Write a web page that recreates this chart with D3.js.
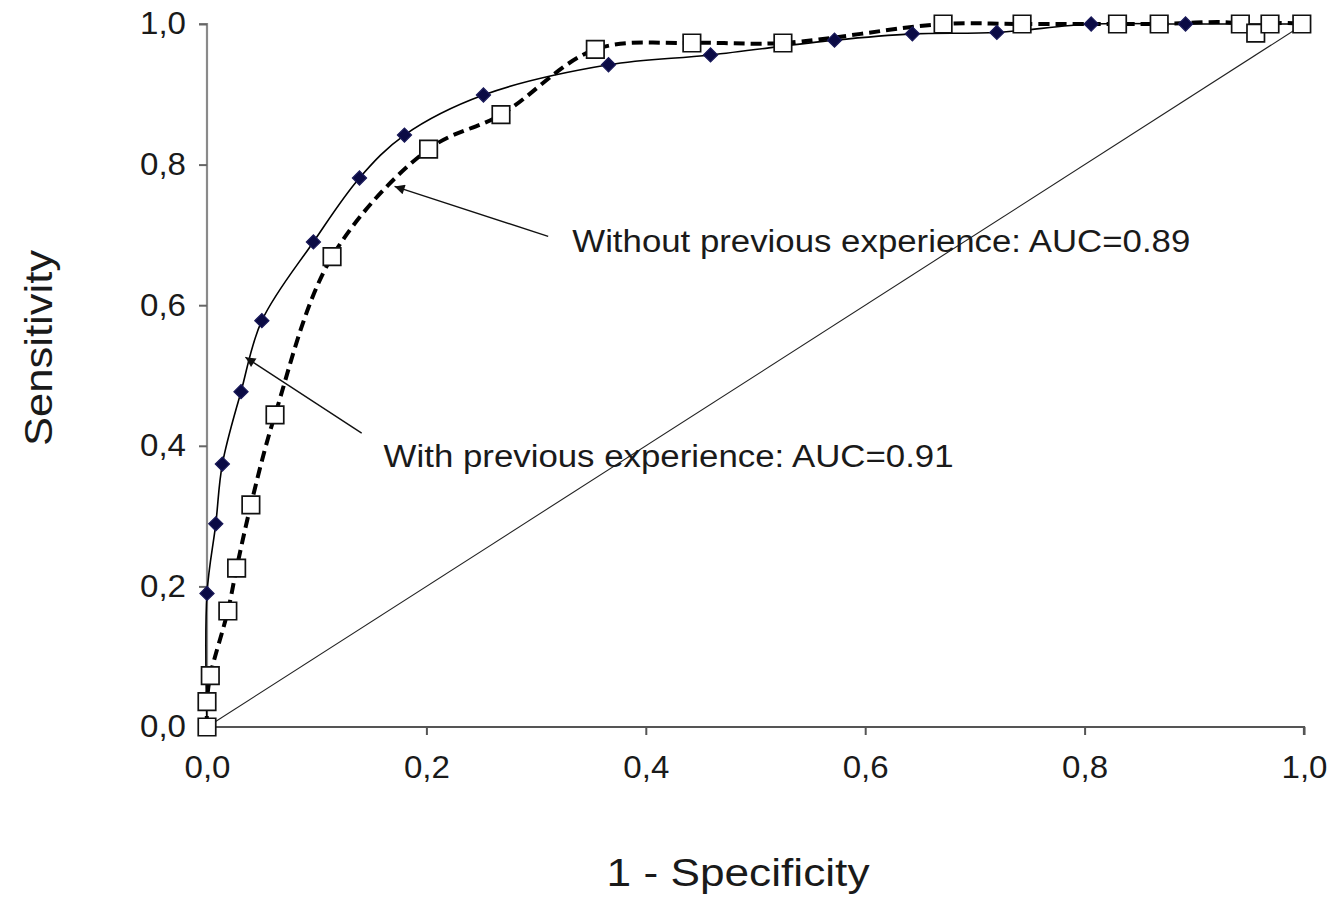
<!DOCTYPE html>
<html>
<head>
<meta charset="utf-8">
<script src="https://cdn.jsdelivr.net/npm/d3@7"></script>
<style>
  html, body { margin: 0; padding: 0; background: #fff; }
  svg { display: block; font-family: "Liberation Sans", Arial, sans-serif; }
</style>
</head>
<body>
<svg id="chart" width="1339" height="898"></svg>
<script>
// ---- data ----
const withX = [0.000, 0.000, 0.008, 0.014, 0.031, 0.050, 0.097, 0.139, 0.180, 0.252, 0.366, 0.459, 0.572, 0.643, 0.720, 0.806, 0.892, 1.000];
const withY = [0.000, 0.190, 0.289, 0.374, 0.477, 0.578, 0.690, 0.781, 0.842, 0.899, 0.942, 0.956, 0.977, 0.986, 0.988, 1.000, 1.000, 1.000];
const withMarker = [false, true, true, true, true, true, true, true, true, true, true, true, true, true, true, true, true, false];

const withoutX = [0.000, 0.000, 0.003, 0.019, 0.027, 0.040, 0.062, 0.114, 0.202, 0.268, 0.354, 0.442, 0.525, 0.671, 0.743, 0.830, 0.868, 0.942, 0.956, 0.969, 0.998];
const withoutY = [0.000, 0.036, 0.073, 0.165, 0.226, 0.316, 0.444, 0.669, 0.822, 0.871, 0.964, 0.973, 0.973, 1.000, 1.000, 1.000, 1.000, 1.000, 0.987, 1.000, 1.000];

const tickValues = [0, 0.2, 0.4, 0.6, 0.8, 1.0];
const tickLabels = ["0,0", "0,2", "0,4", "0,6", "0,8", "1,0"];
const xTitle = "1 - Specificity";
const yTitle = "Sensitivity";
const labelWithout = "Without previous experience: AUC=0.89";
const labelWith = "With previous experience: AUC=0.91";

// ---- layout ----
const svg = d3.select("#chart");
const x = d3.scaleLinear().domain([0, 1]).range([207, 1304]);
const y = d3.scaleLinear().domain([0, 1]).range([727, 24]);

svg.append("defs").append("marker")
  .attr("id", "arrow").attr("viewBox", "0 0 10 10")
  .attr("refX", 10).attr("refY", 5)
  .attr("markerWidth", 15).attr("markerHeight", 10)
  .attr("markerUnits", "userSpaceOnUse")
  .attr("orient", "auto")
  .append("path").attr("d", "M0,0 L10,5 L0,10 Z").attr("fill", "#111");

// diagonal reference
svg.append("line")
  .attr("x1", x(0)).attr("y1", y(0)).attr("x2", x(1)).attr("y2", y(1))
  .attr("stroke", "#222").attr("stroke-width", 1.1);

// axes
const xAxis = d3.axisBottom(x).tickValues(tickValues)
  .tickFormat((d, i) => tickLabels[i]).tickSize(8).tickPadding(21);
const gx = svg.append("g").attr("transform", `translate(0,${y(0)})`).call(xAxis);
gx.select(".domain").attr("stroke", "#555").attr("stroke-width", 2.2).attr("d", `M${x(0)},0H${x(1)}V8`);
gx.selectAll(".tick line").attr("stroke", "#555").attr("stroke-width", 2);
gx.selectAll(".tick text").attr("font-size", 31).attr("fill", "#1a1a1a")
  .attr("font-family", "Liberation Sans, Arial, sans-serif")
  .attr("textLength", 46).attr("lengthAdjust", "spacingAndGlyphs");

const yAxis = d3.axisLeft(y).tickValues(tickValues)
  .tickFormat((d, i) => tickLabels[i]).tickSize(8).tickPadding(13);
const gy = svg.append("g").attr("transform", `translate(${x(0)},0)`).call(yAxis);
gy.select(".domain").attr("stroke", "#8a8a8a").attr("stroke-width", 2.2).attr("d", `M-8,${y(1)}H0V${y(0)}`);
gy.selectAll(".tick line").attr("stroke", "#666").attr("stroke-width", 2);
gy.selectAll(".tick text").attr("font-size", 31).attr("fill", "#1a1a1a")
  .attr("font-family", "Liberation Sans, Arial, sans-serif")
  .attr("textLength", 46).attr("lengthAdjust", "spacingAndGlyphs");

// axis titles
svg.append("text").attr("x", 738).attr("y", 886).attr("text-anchor", "middle")
  .attr("font-size", 39).attr("fill", "#1a1a1a")
  .attr("textLength", 263).attr("lengthAdjust", "spacingAndGlyphs").text(xTitle);
svg.append("text").attr("transform", "translate(52,348) rotate(-90)").attr("text-anchor", "middle")
  .attr("font-size", 39).attr("fill", "#1a1a1a")
  .attr("textLength", 196).attr("lengthAdjust", "spacingAndGlyphs").text(yTitle);

// series lines
const withData = withX.map((v, i) => ({ x: v, y: withY[i], m: withMarker[i] }));
const withoutData = withoutX.map((v, i) => ({ x: v, y: withoutY[i] }));
const line = d3.line().x(d => x(d.x)).y(d => y(d.y)).curve(d3.curveCatmullRom.alpha(0.5));

svg.append("path").datum(withoutData).attr("d", line)
  .attr("fill", "none").attr("stroke", "#000").attr("stroke-width", 4)
  .attr("stroke-dasharray", "11,6");

svg.append("path").datum(withData).attr("d", line)
  .attr("fill", "none").attr("stroke", "#000").attr("stroke-width", 1.6);

// markers
svg.append("g").selectAll("path").data(withoutData).join("path")
  .attr("transform", d => `translate(${x(d.x)},${y(d.y)})`)
  .attr("d", d3.symbol(d3.symbolSquare, 306))
  .attr("fill", "#fff").attr("stroke", "#111").attr("stroke-width", 1.7);

svg.append("g").selectAll("path").data(withData.filter(d => d.m)).join("path")
  .attr("transform", d => `translate(${x(d.x)},${y(d.y)}) rotate(45)`)
  .attr("d", d3.symbol(d3.symbolSquare, 100))
  .attr("fill", "#0b0b45").attr("stroke", "#1a1a5a").attr("stroke-width", 1.2);

// annotations
function arrow(x1, y1, x2, y2) {
  svg.append("line")
    .attr("x1", x(x1)).attr("y1", y(y1)).attr("x2", x(x2)).attr("y2", y(y2))
    .attr("stroke", "#111").attr("stroke-width", 1.4).attr("marker-end", "url(#arrow)");
}
arrow(0.311, 0.698, 0.171, 0.769);
arrow(0.141, 0.418, 0.035, 0.526);

svg.append("text").attr("x", x(0.333)).attr("y", y(0.675))
  .attr("font-size", 31).attr("fill", "#1a1a1a")
  .attr("textLength", 618).attr("lengthAdjust", "spacingAndGlyphs").text(labelWithout);
svg.append("text").attr("x", x(0.161)).attr("y", y(0.370))
  .attr("font-size", 31).attr("fill", "#1a1a1a")
  .attr("textLength", 570).attr("lengthAdjust", "spacingAndGlyphs").text(labelWith);
</script>
</body>
</html>
